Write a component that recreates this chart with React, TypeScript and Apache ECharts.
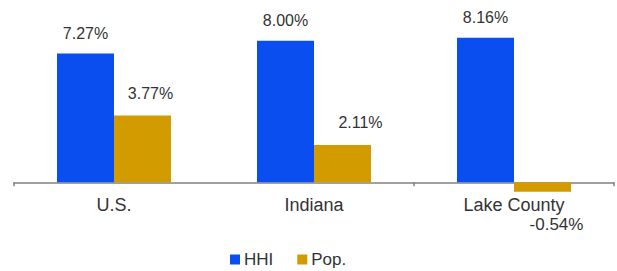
import React, { useEffect, useRef } from "react";
import * as echarts from "echarts";

const categories = ["U.S.", "Indiana", "Lake County"];
const hhiValues = [7.27, 8.0, 8.16];
const popValues = [3.77, 2.11, -0.54];
const seriesNames = ["HHI", "Pop."];

const hhiLabelOffsets = [[0, 0], [0, 0], [0, 0]];
const popLabelOffsets = [[8, 0], [18, 0], [14, 0]];

export default function App() {
  const ref = useRef<HTMLDivElement>(null);
  useEffect(() => {
    if (!ref.current) return;
    const chart = echarts.init(ref.current, undefined, { renderer: "svg" });
    const labelFont = { fontFamily: "Liberation Sans, Arial, sans-serif", fontSize: 16, color: "#333" };
    chart.setOption({
      animation: false,
      grid: { left: 14, right: 3, top: 23, bottom: 71 },
      legend: {
        left: 225,
        top: 246,
        itemWidth: 10,
        itemHeight: 10,
        itemGap: 24,
        icon: "rect",
        textStyle: { fontFamily: "Liberation Sans, Arial, sans-serif", fontSize: 17, color: "#333", padding: [0, 0, 0, -1] },
        data: seriesNames,
      },
      xAxis: {
        type: "category",
        data: categories,
        axisLine: { onZero: true, lineStyle: { color: "#808080", width: 1.5 } },
        axisTick: {
          show: true,
          length: 4,
          lineStyle: { color: "#808080", width: 1.5 },
          interval: (i: number) => i === 0 || i === 2,
        },
        axisLabel: {
          fontFamily: "Liberation Sans, Arial, sans-serif",
          fontSize: 18,
          color: "#333",
          margin: -4,
        },
      },
      yAxis: {
        type: "value",
        min: -1,
        max: 9,
        show: false,
        splitLine: { show: false },
      },
      series: [
        {
          name: seriesNames[0],
          type: "bar",
          barGap: "0%",
          barCategoryGap: "43%",
          itemStyle: { color: "#0B4EEF" },
          data: hhiValues.map((v, i) => ({
            value: v,
            label: {
              show: true,
              position: "top",
              distance: 12,
              offset: hhiLabelOffsets[i],
              formatter: (p: any) => p.value.toFixed(2) + "%",
              ...labelFont,
            },
          })),
        },
        {
          name: seriesNames[1],
          type: "bar",
          itemStyle: { color: "#D29B00" },
          data: popValues.map((v, i) => ({
            value: v,
            label: {
              show: true,
              position: v < 0 ? "bottom" : "top",
              distance: v < 0 ? 24 : 14,
              offset: popLabelOffsets[i],
              formatter: (p: any) => p.value.toFixed(2) + "%",
              ...labelFont,
              ...(v < 0 ? { fontSize: 17 } : {}),
            },
          })),
        },
      ],
    });
    return () => chart.dispose();
  }, []);
  return <div ref={ref} style={{ width: 617, height: 271, position: "absolute", left: 0, top: 0 }} />;
}
